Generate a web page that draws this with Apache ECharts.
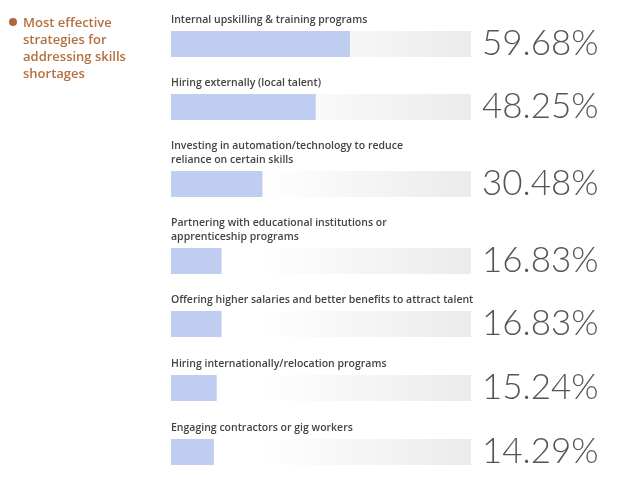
<!DOCTYPE html>
<html>
<head>
<meta charset="utf-8">
<script src="https://cdn.jsdelivr.net/npm/echarts@6/dist/echarts.min.js"></script>
<style>
  html, body { margin: 0; padding: 0; background: #fff; }
  #chart-container { width: 624px; height: 477px; }
</style>
</head>
<body>
<div id="chart-container"></div>
<script>
var titleText = 'Most effective\nstrategies for\naddressing skills\nshortages';

var categories = [
  'Internal upskilling & training programs',
  'Hiring externally (local talent)',
  'Investing in automation/technology to reduce\nreliance on certain skills',
  'Partnering with educational institutions or\napprenticeship programs',
  'Offering higher salaries and better benefits to attract talent',
  'Hiring internationally/relocation programs',
  'Engaging contractors or gig workers'
];
var values = [59.68, 48.25, 30.48, 16.83, 16.83, 15.24, 14.29];

// layout: top of each bar row in pixels
var rowTops = [31, 94, 171, 248, 311, 375, 439];

var dom = document.getElementById('chart-container');
var myChart = echarts.init(dom);
var option;

var grids = [], xAxes = [], yAxes = [], series = [];
var titles = [{
  text: titleText,
  left: 23,
  top: 15,
  padding: 0,
  textStyle: {
    fontFamily: 'Open Sans',
    fontSize: 13,
    fontWeight: 600,
    lineHeight: 17,
    color: '#b3703f'
  }
}];

categories.forEach(function (name, i) {
  var lines = name.split('\n').length;
  grids.push({ left: 171, width: 300, top: rowTops[i], height: 26 });
  xAxes.push({ gridIndex: i, type: 'value', min: 0, max: 100, show: false });
  yAxes.push({
    gridIndex: i,
    type: 'category',
    position: 'right',
    data: [name],
    axisLine: { show: false },
    axisTick: { show: false },
    axisLabel: {
      margin: 11,
      fontFamily: 'Lato',
      fontWeight: 300,
      fontSize: 35,
      color: '#555',
      formatter: function () { return values[i].toFixed(2) + '%'; }
    }
  });
  series.push({
    type: 'bar',
    xAxisIndex: i,
    yAxisIndex: i,
    data: [values[i]],
    barWidth: 26,
    itemStyle: { color: '#bfcdf0' },
    showBackground: true,
    backgroundStyle: {
      color: new echarts.graphic.LinearGradient(0, 0, 1, 0, [
        { offset: 0, color: '#ffffff' },
        { offset: 0.3, color: '#ffffff' },
        { offset: 1, color: '#ebebeb' }
      ])
    },
    silent: true
  });
  titles.push({
    text: name,
    left: 171,
    top: rowTops[i] - 18 - (lines - 1) * 14,
    padding: 0,
    textStyle: {
      fontFamily: 'Open Sans',
      fontSize: 10.5,
      fontWeight: 600,
      lineHeight: 14,
      color: '#444'
    }
  });
});

option = {
  animation: false,
  title: titles,
  graphic: [{
    type: 'circle',
    shape: { cx: 13, cy: 22, r: 4 },
    style: { fill: '#a86a3d' }
  }],
  grid: grids,
  xAxis: xAxes,
  yAxis: yAxes,
  series: series
};

if (option && typeof option === 'object') {
  myChart.setOption(option);
}

window.addEventListener('resize', myChart.resize);
</script>
</body>
</html>
